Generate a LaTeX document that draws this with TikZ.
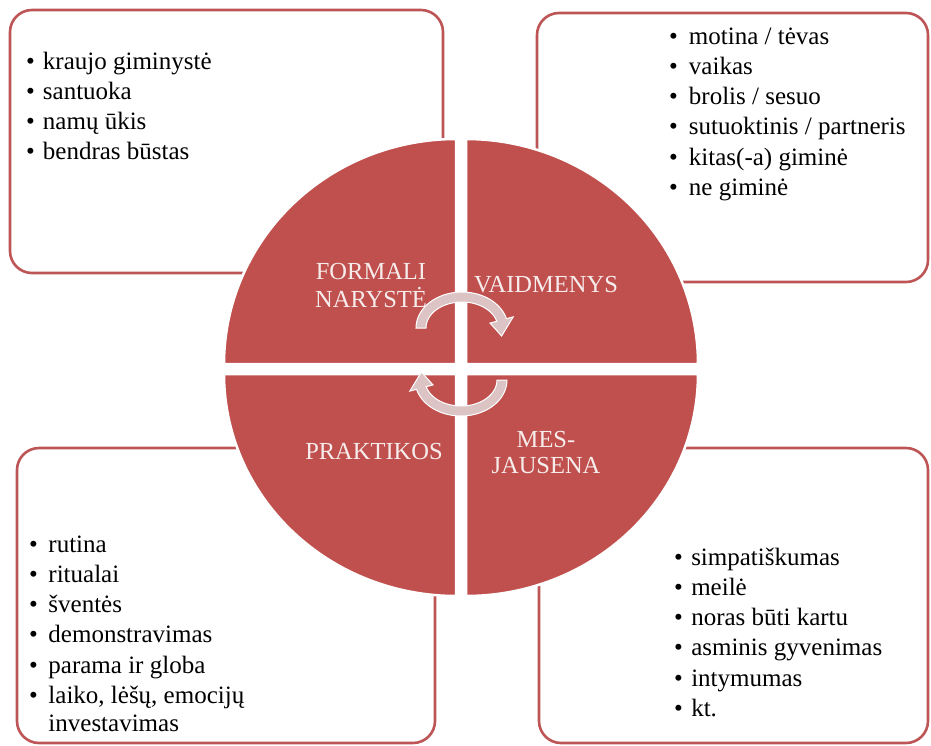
\documentclass[tikz,border=0pt]{standalone}
\usepackage{fontspec}
\setmainfont{Liberation Serif}
\definecolor{qred}{HTML}{C0504D}
\definecolor{boxred}{HTML}{BD5557}
\definecolor{arrowfill}{HTML}{DCC4C5}
\definecolor{lbl}{HTML}{F6ECEC}
\begin{document}
\begin{tikzpicture}[x=1pt,y=-1pt,
  box/.style={draw=boxred, line width=2.6pt, rounded corners=22pt},
  quad/.style={fill=qred, draw=white, line width=2.5pt},
  cyc/.style={fill=arrowfill, draw=white, line width=1pt},
  lab/.style={text=lbl, font=\fontsize{24.5}{26}\selectfont, inner sep=0pt, anchor=base},
  lst/.style={font=\fontsize{25}{30.3}\selectfont, inner sep=0pt, anchor=base west, text=black}]
\useasboundingbox (0,0) rectangle (931,745);
\fill[white] (0,0) rectangle (931,745);
% boxes
\draw[box] (10,10) rectangle (443,273);
\draw[box] (537,13) rectangle (928,282);
\draw[box] (17,448) rectangle (435,743);
\draw[box] (539,448) rectangle (928,743);
% quadrants
\path[quad] (456,364) -- plot[domain=180:270,samples=70] ({456+232*cos(\x)},{364+225*sin(\x)}) -- cycle;
\path[quad] (466,364) -- plot[domain=270:360,samples=70] ({466+232*cos(\x)},{364+225*sin(\x)}) -- cycle;
\path[quad] (456,374) -- plot[domain=90:180,samples=70] ({456+232*cos(\x)},{374+222*sin(\x)}) -- cycle;
\path[quad] (466,374) -- plot[domain=0:90,samples=70] ({466+232*cos(\x)},{374+222*sin(\x)}) -- cycle;
% cycle arrows
\path[cyc] plot[domain=180:345,samples=40] ({462+46*cos(\x)},{328+36*sin(\x)})
  -- ({462+53*cos(345)},{328+43*sin(345)})
  -- ({462+41*cos(15)},{328+31*sin(15)})
  -- ({462+29*cos(345)},{328+19*sin(345)})
  -- plot[domain=345:180,samples=40] ({462+36*cos(\x)},{328+26*sin(\x)}) -- cycle;
\begin{scope}[rotate around={180:(461.5,354)}]
\path[cyc] plot[domain=180:345,samples=40] ({462+46*cos(\x)},{328+36*sin(\x)})
  -- ({462+53*cos(345)},{328+43*sin(345)})
  -- ({462+41*cos(15)},{328+31*sin(15)})
  -- ({462+29*cos(345)},{328+19*sin(345)})
  -- plot[domain=345:180,samples=40] ({462+36*cos(\x)},{328+26*sin(\x)}) -- cycle;
\end{scope}
% quadrant labels
\node[lab] (formali) at (371,279) {\begin{tabular}[t]{@{}c@{}}FORMALI\\NARYSTĖ\end{tabular}};
\node[lab] (vaidmenys) at (546,292) {VAIDMENYS};
\node[lab] (praktikos) at (374,459) {PRAKTIKOS};
\node[lab] (mes) at (546,447) {\begin{tabular}[t]{@{}c@{}}MES-\\JAUSENA\end{tabular}};
% lists
\node[lst] (tl) at (26,69) {\begin{tabular}[t]{@{}l@{\hspace{8pt}}l@{}}
•&kraujo giminystė\\
•&santuoka\\
•&namų ūkis\\
•&bendras būstas\end{tabular}};
\node[lst] (tr) at (669,44) {\begin{tabular}[t]{@{}l@{\hspace{11pt}}l@{}}
•&motina / tėvas\\
•&vaikas\\
•&brolis / sesuo\\
•&sutuoktinis / partneris\\
•&kitas(-a) giminė\\
•&ne giminė\end{tabular}};
\node[lst] (bl) at (29,552) {\begin{tabular}[t]{@{}l@{\hspace{10.5pt}}l@{}}
•&rutina\\
•&ritualai\\
•&šventės\\
•&demonstravimas\\
•&parama ir globa\\
•&laiko, lėšų, emocijų\\[-2pt]
&investavimas\end{tabular}};
\node[lst] (br) at (674,565) {\begin{tabular}[t]{@{}l@{\hspace{8.3pt}}l@{}}
•&simpatiškumas\\
•&meilė\\
•&noras būti kartu\\
•&asminis gyvenimas\\
•&intymumas\\
•&kt.\end{tabular}};
\end{tikzpicture}
\end{document}
